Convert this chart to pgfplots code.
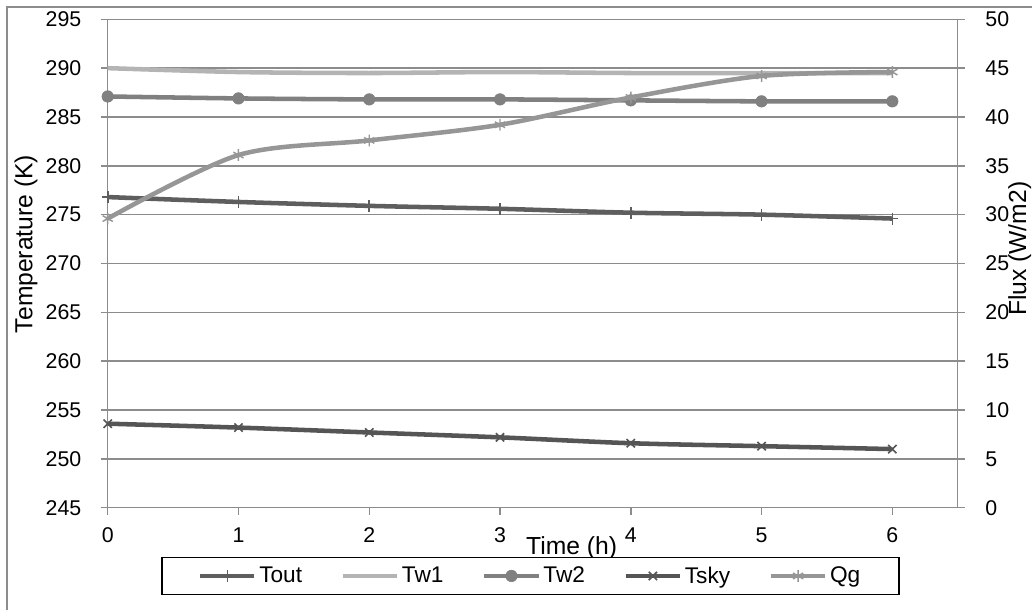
\documentclass[border=0pt]{standalone}
\usepackage{pgfplots}
\pgfplotsset{compat=1.18}
\usepackage{fontspec}
\setmainfont{Liberation Sans}

\definecolor{gridgray}{HTML}{8C8C8C}
\definecolor{toutc}{HTML}{5E5E5E}
\definecolor{tw1c}{HTML}{B4B4B4}
\definecolor{tw2c}{HTML}{808080}
\definecolor{tskyc}{HTML}{555555}
\definecolor{qgc}{HTML}{969696}

\pgfplotsset{
  toutstyle/.style={toutc, line width=3.4pt, smooth, tension=0.5, mark=+, mark size=4.5pt, mark options={solid, line width=1.2pt}},
  tw1style/.style={tw1c, line width=3.4pt, smooth, tension=0.5, no markers},
  tw2style/.style={tw2c, line width=3.4pt, smooth, tension=0.5, mark=*, mark size=4.3pt, mark options={solid, fill=tw2c, draw=tw2c, line width=0.5pt}},
  tskystyle/.style={tskyc, line width=3.4pt, smooth, tension=0.5, mark=x, mark size=4.4pt, mark options={solid, line width=1.2pt}},
  qgstyle/.style={qgc, line width=3.4pt, smooth, tension=0.5, mark=asterisk, mark size=4.4pt, mark options={solid, line width=1.1pt}},
  common/.style={
    at={(80.78pt,76.73pt)}, anchor=south west,
    scale only axis, width=637.5pt, height=366.3pt,
    xmin=0, xmax=6.5,
    axis line style={gridgray, line width=1.1pt},
    tick style={gridgray, line width=1.1pt},
    tick align=outside, major tick length=5.25pt,
    /pgf/number format/assume math mode=true,
    ticklabel style={font=\fontsize{16}{19}\selectfont, text=black},
    label style={font=\fontsize{18.5}{22}\selectfont},
  },
}

\begin{document}
\begin{tikzpicture}
\path[use as bounding box] (0,0) rectangle (774pt,457.5pt);
\draw[gridgray, line width=1.1pt] (5.25pt,-10pt) -- (5.25pt,452.25pt) -- (790pt,452.25pt);

\begin{axis}[
  common,
  ymin=245, ymax=295,
  xtick={0,1,2,3,4,5,6}, ytick={245,250,255,260,265,270,275,280,285,290,295},
  xtick pos=left, ytick pos=left,
  ymajorgrids, grid style={gridgray, line width=1.1pt},
  yticklabel style={xshift=-11pt},
  xticklabel style={yshift=-6.5pt},
  xlabel={Time (h)},
  xlabel style={at={(rel axis cs:0.5458,-0.0825)}, anchor=center},
  ylabel={Temperature (K)},
  ylabel style={at={(rel axis cs:-0.0961,0.54)}, anchor=center},
  legend columns=5,
  legend style={at={(rel axis cs:0.4974,-0.1398)}, anchor=center,
    draw=black, line width=1.1pt, inner xsep=27pt, inner ysep=5pt,
    font=\fontsize{17}{20}\selectfont,
    /tikz/every even column/.append style={column sep=27pt}},
  legend image code/.code={\draw[mark repeat=2, mark phase=2, #1] plot coordinates {(0pt,0pt) (20.25pt,0pt) (40.5pt,0pt)};},
]
\addplot[toutstyle] coordinates {(0,276.8) (1,276.3) (2,275.9) (3,275.6) (4,275.2) (5,275.0) (6,274.6)};
\addlegendentry{Tout}
\addplot[tw1style] coordinates {(0,290.0) (1,289.6) (2,289.5) (3,289.6) (4,289.5) (5,289.5) (6,289.5)};
\addlegendentry{Tw1}
\addplot[tw2style] coordinates {(0,287.1) (1,286.9) (2,286.8) (3,286.8) (4,286.7) (5,286.6) (6,286.6)};
\addlegendentry{Tw2}
\addplot[tskystyle] coordinates {(0,253.6) (1,253.2) (2,252.7) (3,252.2) (4,251.6) (5,251.3) (6,251.0)};
\addlegendentry{Tsky}
\addlegendimage{qgstyle}
\addlegendentry{Qg}
\end{axis}

\begin{axis}[
  common,
  ymin=0, ymax=50,
  ytick={0,5,10,15,20,25,30,35,40,45,50},
  axis y line*=right, axis x line=none,
  yticklabel style={xshift=12pt},
  ylabel={Flux (W/m2)},
  ylabel style={at={(rel axis cs:1.073,0.53)}, anchor=center},
]
\addplot[qgstyle] coordinates {(0,29.6) (1,36.1) (2,37.6) (3,39.2) (4,42.0) (5,44.2) (6,44.6)};
\end{axis}
\end{tikzpicture}
\end{document}
